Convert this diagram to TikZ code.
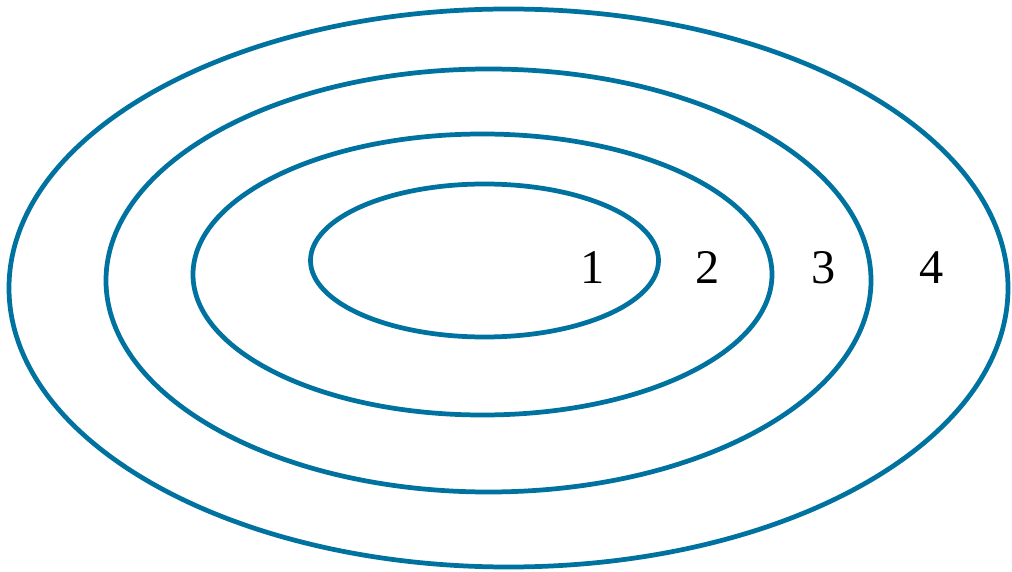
\documentclass[tikz,border=0pt]{standalone}
\usepackage{fontspec}
\setmainfont{Liberation Serif}
\usepackage{tikz}
\usetikzlibrary{positioning}
\definecolor{ringblue}{RGB}{0,114,160}

\begin{document}
\begin{tikzpicture}[ring/.style={draw=ringblue, line width=2.7pt},
                    lbl/.style={inner sep=0pt, font=\fontsize{27.5}{30}\selectfont}]
            \useasboundingbox (0,0) rectangle (20.24,-11.44);
            \foreach \cx/\cy/\rx/\ry in {10.17/-5.76/9.99/5.58, 9.77/-5.61/7.65/4.23, 9.65/-5.49/5.79/2.81, 9.69/-5.21/3.48/1.53} {
                \draw[ring] (\cx,\cy) ellipse [x radius=\rx, y radius=\ry];
            }
            \node[lbl] (one) at (11.86,-5.36) {1};
            \node[lbl] (two) at (14.16,-5.36) {2};
            \node[lbl] (three) at (16.48,-5.36) {3};
            \node[lbl] (four) at (18.64,-5.36) {4};
        \end{tikzpicture}
\end{document}
